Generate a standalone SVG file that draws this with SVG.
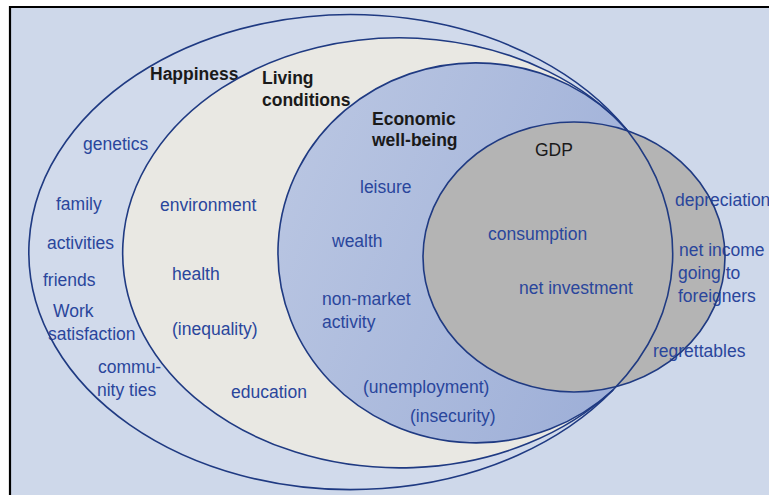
<svg xmlns="http://www.w3.org/2000/svg" xmlns:xlink="http://www.w3.org/1999/xlink" width="769" height="495" viewBox="0 0 769 495">
  <defs>
    <style>
      text { font-family: "Liberation Sans", Arial, Helvetica, sans-serif; font-size: 17.5px; }
      .item { fill: #2a469c; }
      .title { fill: #1a1a1a; font-weight: bold; }
      .title-plain { fill: #1a1a1a; }
      .outline { fill: none; stroke: #1f3a82; stroke-width: 1.6; }
    </style>
    <linearGradient id="econFill" x1="0" y1="0" x2="1" y2="0.4">
      <stop offset="0" stop-color="#bcc8e3"/>
      <stop offset="1" stop-color="#9fb0d8"/>
    </linearGradient>
    <!-- the three outer regions meet at (627,130) and (613,390) and share the right-hand arc -->
    <path id="shapeHappiness" d="M627 130 A322 237.5 0 1 0 613 390 C688.4 313.8 691.6 211.4 627 130 Z"/>
    <path id="shapeLiving" d="M627 130 A277 215 0 1 0 613 390 C688.4 313.8 691.6 211.4 627 130 Z"/>
    <path id="shapeEconomic" d="M627 130 A198 190 0 1 0 613 390 C688.4 313.8 691.6 211.4 627 130 Z"/>
    <ellipse id="shapeGdp" cx="574" cy="257" rx="151" ry="135"/>
  </defs>

  <!-- frame -->
  <rect x="0" y="0" width="769" height="495" fill="#ffffff"/>
  <rect x="10" y="7" width="759" height="488" fill="#ced8ea"/>
  <path d="M10 495 V7 H769" fill="none" stroke="#000000" stroke-width="2.2"/>

  <g id="happiness">
    <use xlink:href="#shapeHappiness" fill="#d1daeb"/>
    <text class="title" x="150" y="80">Happiness</text>
    <text class="item" x="83" y="150">genetics</text>
    <text class="item" x="56" y="210">family</text>
    <text class="item" x="47" y="249">activities</text>
    <text class="item" x="43" y="286">friends</text>
    <text class="item" x="53" y="317">Work</text>
    <text class="item" x="48" y="340">satisfaction</text>
    <text class="item" x="98" y="373">commu-</text>
    <text class="item" x="97" y="396">nity ties</text>
  </g>

  <g id="living-conditions">
    <use xlink:href="#shapeLiving" fill="#e9e8e3"/>
    <text class="title" x="262" y="84">Living</text>
    <text class="title" x="262" y="106">conditions</text>
    <text class="item" x="160" y="211">environment</text>
    <text class="item" x="172" y="280">health</text>
    <text class="item" x="172" y="335">(inequality)</text>
    <text class="item" x="231" y="398">education</text>
  </g>

  <g id="economic-well-being">
    <use xlink:href="#shapeEconomic" fill="url(#econFill)"/>
    <text class="title" x="372" y="125">Economic</text>
    <text class="title" x="372" y="146">well-being</text>
    <text class="item" x="360" y="193">leisure</text>
    <text class="item" x="332" y="247">wealth</text>
    <text class="item" x="322" y="305">non-market</text>
    <text class="item" x="322" y="328">activity</text>
    <text class="item" x="363" y="393">(unemployment)</text>
    <text class="item" x="410" y="422">(insecurity)</text>
  </g>

  <g id="gdp">
    <use xlink:href="#shapeGdp" fill="#b4b4b4"/>
    <text class="title-plain" x="535" y="156">GDP</text>
    <text class="item" x="488" y="240">consumption</text>
    <text class="item" x="519" y="294">net investment</text>
    <text class="item" x="675" y="206">depreciation</text>
    <text class="item" x="679" y="256">net income</text>
    <text class="item" x="678" y="279">going to</text>
    <text class="item" x="678" y="302">foreigners</text>
    <text class="item" x="653" y="357">regrettables</text>
  </g>

  <!-- boundaries drawn over all fills so overlaps stay visible -->
  <g id="outlines" class="outline">
    <use xlink:href="#shapeHappiness"/>
    <path d="M627 130 A277 215 0 1 0 613 390"/>
    <path d="M627 130 A198 190 0 1 0 613 390"/>
    <use xlink:href="#shapeGdp"/>
  </g>
</svg>
